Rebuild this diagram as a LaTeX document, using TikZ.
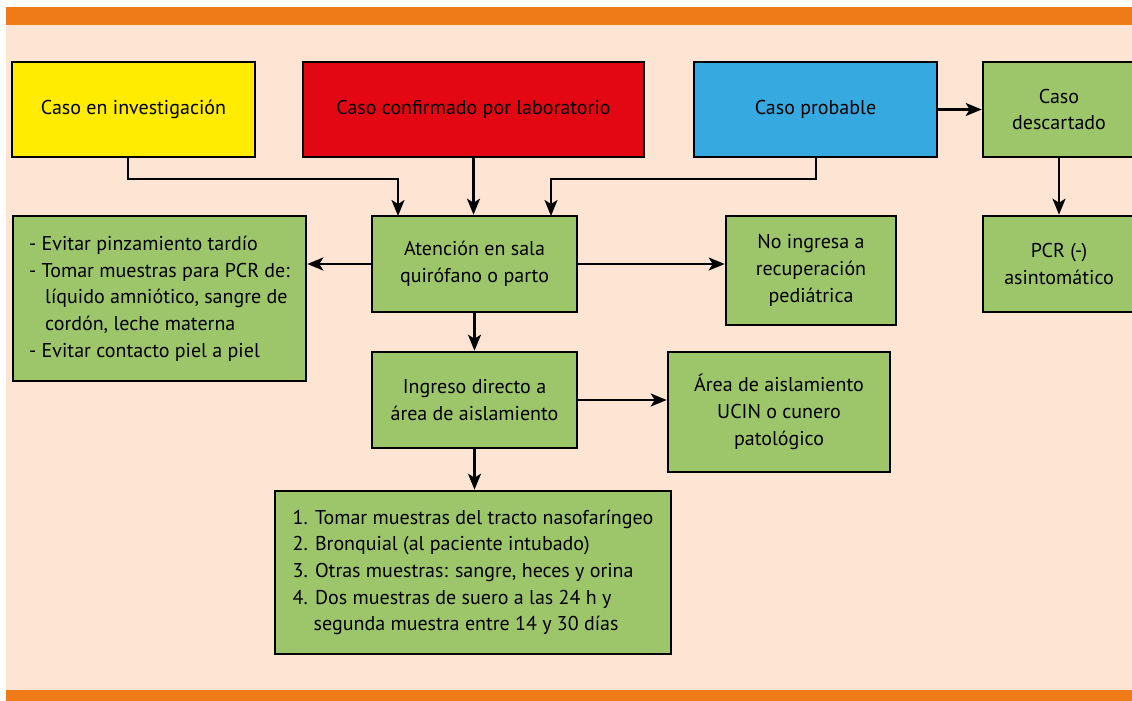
\documentclass[tikz,border=0pt]{standalone}
\usepackage{fontspec}
\setmainfont{PT Sans}
\usetikzlibrary{arrows.meta}
\definecolor{obar}{HTML}{EE7A18}
\definecolor{peach}{HTML}{FDE4D3}
\definecolor{cyel}{HTML}{FFEC00}
\definecolor{cred}{HTML}{E30613}
\definecolor{cblue}{HTML}{36A9E0}
\definecolor{cgreen}{HTML}{9DC66B}
\tikzset{
  box/.style={draw=black, line width=2.6pt, rectangle, inner sep=0pt, align=center, font=\fontsize{20}{26.7}\selectfont},
  arr/.style={line width=2.2pt, -{Stealth[length=16pt,width=13pt,inset=4pt]}},
  ln/.style={line width=2pt}
}
\begin{document}
\begin{tikzpicture}[x=1pt,y=-1pt]
\useasboundingbox (0,0) rectangle (1132,701);
\fill[white] (0,0) rectangle (1132,701);
\fill[peach] (6,25) rectangle (1132,690);
\fill[obar] (6,7) rectangle (1132,25);
\fill[obar] (6,690) rectangle (1132,701);

\node[box, fill=cyel, minimum width=243pt, minimum height=95pt] (yel) at (133.5,109.5) {Caso en investigación};
\node[box, fill=cred, minimum width=341pt, minimum height=95pt] (red) at (473.5,109.5) {Caso confirmado por laboratorio};
\node[box, fill=cblue, minimum width=243pt, minimum height=95pt] (blue) at (815.5,109.5) {Caso probable};
\node[box, fill=cgreen, minimum width=152pt, minimum height=95pt] (desc) at (1059,109.5) {Caso\\descartado};
\node[box, fill=cgreen, minimum width=152pt, minimum height=96pt] (pcr) at (1059,264) {PCR (-)\\asintomático};
\node[box, fill=cgreen, minimum width=205pt, minimum height=96pt] (aten) at (474.5,264) {Atención en sala\\quirófano o parto};
\node[box, fill=cgreen, minimum width=170pt, minimum height=109pt] (noing) at (811,270.5) {No ingresa a\\recuperación\\pediátrica};
\node[box, fill=cgreen, minimum width=293pt, minimum height=165pt, align=left] (left) at (159.5,298.5) {- Evitar pinzamiento tardío\\- Tomar muestras para PCR de:\\\hspace*{0.8em}líquido amniótico, sangre de\\\hspace*{0.8em}cordón, leche materna\\- Evitar contacto piel a piel};
\node[box, fill=cgreen, minimum width=205pt, minimum height=96pt] (ingr) at (474.5,400) {Ingreso directo a\\área de aislamiento};
\node[box, fill=cgreen, minimum width=222pt, minimum height=120pt] (area) at (779,412) {Área de aislamiento\\UCIN o cunero\\patológico};
\node[box, fill=cgreen, minimum width=396pt, minimum height=163pt, align=left] (bot) at (473,572.5) {1. Tomar muestras del tracto nasofaríngeo\\2. Bronquial (al paciente intubado)\\3. Otras muestras: sangre, heces y orina\\4. Dos muestras de suero a las 24 h y\\\hspace*{1.05em}segunda muestra entre 14 y 30 días};

\coordinate (ya) at (128,157);
\coordinate (yb) at (128,179);
\coordinate (yc) at (398,179);
\coordinate (yd) at (398,216);
\draw[arr] (ya) -- (yb) -- (yc) -- (yd);
\draw[arr] (red.south) -- (red.south |- aten.north);
\coordinate (ba) at (816,157);
\coordinate (bb) at (816,179);
\coordinate (bc) at (551,179);
\coordinate (bd) at (551,216);
\draw[arr] (ba) -- (bb) -- (bc) -- (bd);
\draw[arr] (blue.east) -- (desc.west);
\draw[arr] (desc.south) -- (pcr.north);
\draw[arr] (aten.west) -- (left.east |- aten.west);
\draw[arr] (aten.east) -- (noing.west |- aten.east);
\draw[arr] (aten.south) -- (ingr.north);
\draw[arr] (ingr.east) -- (area.west |- ingr.east);
\draw[arr] (ingr.south) -- (ingr.south |- bot.north);
\end{tikzpicture}
\end{document}
